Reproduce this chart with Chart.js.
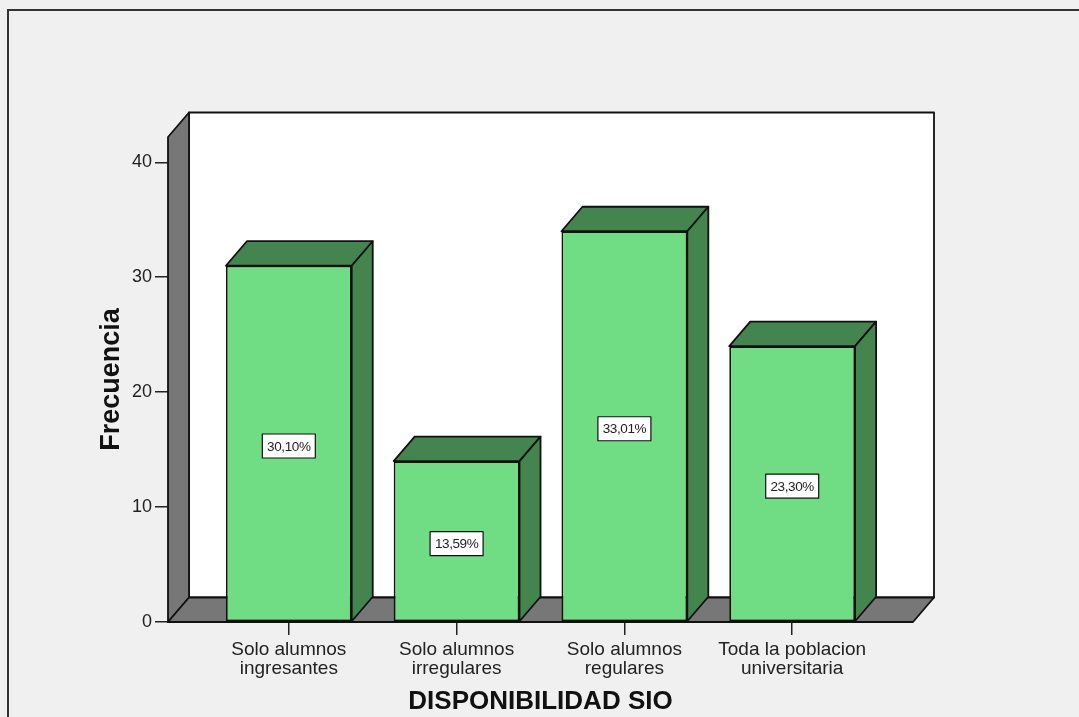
<!DOCTYPE html>
<html>
<head>
<meta charset="utf-8">
<script src="https://cdn.jsdelivr.net/npm/chart.js@4"></script>
<style>
  html, body { margin: 0; padding: 0; background: #f0f0f0; }
  canvas { display: block; }
</style>
</head>
<body>
<canvas id="myChart" width="1079" height="717"></canvas>
<script>
(function () {
  "use strict";

  // data
  const categories = [
    ["Solo alumnos", "ingresantes"],
    ["Solo alumnos", "irregulares"],
    ["Solo alumnos", "regulares"],
    ["Toda la poblacion", "universitaria"],
  ];
  const frecuencia = [31, 14, 34, 24];
  const yTicks = [0, 10, 20, 30, 40];

  const total = frecuencia.reduce((a, b) => a + b, 0);
  const porcentajes = frecuencia.map(
    (v) => ((v / total) * 100).toFixed(2).replace(".", ",") + "%"
  );

  // 3d look
  const DX = 21;
  const DY = 24.5;
  const FRONT = "#70dc84";
  const SHADE = "#44854f";
  const WALL = "#777777";

  const fondo = {
    id: "fondo",
    beforeDraw(chart) {
      const ctx = chart.ctx;
      ctx.save();
      ctx.fillStyle = "#f0f0f0";
      ctx.fillRect(0, 0, chart.width, chart.height);
      ctx.strokeStyle = "#333";
      ctx.lineWidth = 2;
      ctx.strokeRect(8, 10, chart.width + 20, chart.height + 20);
      ctx.restore();
    },
  };

  // back wall, left wall and floor
  const paredes = {
    id: "paredes",
    beforeDatasetsDraw(chart) {
      const { ctx, chartArea: a } = chart;
      ctx.save();
      ctx.lineWidth = 1.8;
      ctx.strokeStyle = "#111";
      ctx.lineJoin = "round";

      ctx.fillStyle = "#ffffff";
      ctx.fillRect(a.left + DX, a.top - DY, a.right - a.left, a.bottom - a.top);
      ctx.strokeRect(a.left + DX, a.top - DY, a.right - a.left, a.bottom - a.top);

      ctx.fillStyle = WALL;
      ctx.beginPath();
      ctx.moveTo(a.left, a.top);
      ctx.lineTo(a.left + DX, a.top - DY);
      ctx.lineTo(a.left + DX, a.bottom - DY);
      ctx.lineTo(a.left, a.bottom);
      ctx.closePath();
      ctx.fill();
      ctx.stroke();

      ctx.beginPath();
      ctx.moveTo(a.left, a.bottom);
      ctx.lineTo(a.left + DX, a.bottom - DY);
      ctx.lineTo(a.right + DX, a.bottom - DY);
      ctx.lineTo(a.right, a.bottom);
      ctx.closePath();
      ctx.fill();
      ctx.stroke();
      ctx.restore();
    },
  };

  // top / side faces of the bars and the percent boxes
  const cajas = {
    id: "cajas",
    afterDatasetsDraw(chart) {
      const ctx = chart.ctx;
      const meta = chart.getDatasetMeta(0);
      ctx.save();
      ctx.lineWidth = 1.8;
      ctx.strokeStyle = "#111";
      ctx.lineJoin = "round";
      meta.data.forEach((bar, i) => {
        const l = bar.x - bar.width / 2;
        const r = bar.x + bar.width / 2;
        const t = bar.y;
        const b = bar.base;

        ctx.fillStyle = SHADE;
        ctx.beginPath();
        ctx.moveTo(l, t);
        ctx.lineTo(l + DX, t - DY);
        ctx.lineTo(r + DX, t - DY);
        ctx.lineTo(r, t);
        ctx.closePath();
        ctx.fill();
        ctx.stroke();

        ctx.beginPath();
        ctx.moveTo(r, t);
        ctx.lineTo(r + DX, t - DY);
        ctx.lineTo(r + DX, b - DY);
        ctx.lineTo(r, b);
        ctx.closePath();
        ctx.fill();
        ctx.stroke();

        // percent label
        const cy = (t + b) / 2 + 2.5;
        const w = 53;
        const h = 24;
        ctx.save();
        ctx.fillStyle = "#fff";
        ctx.lineWidth = 1.2;
        ctx.fillRect(bar.x - w / 2, cy - h / 2, w, h);
        ctx.strokeRect(bar.x - w / 2, cy - h / 2, w, h);
        ctx.fillStyle = "#222";
        ctx.font = '13.5px "Liberation Sans", Arial, sans-serif';
        ctx.letterSpacing = "-0.4px";
        ctx.textAlign = "center";
        ctx.textBaseline = "middle";
        ctx.fillText(porcentajes[i], bar.x, cy + 1);
        ctx.restore();
      });
      ctx.restore();
    },
  };

  Chart.defaults.font.family = '"Liberation Sans", Arial, sans-serif';
  Chart.defaults.color = "#222";

  const ctx = document.getElementById("myChart");

  new Chart(ctx, {
    type: "bar",
    data: {
      datasets: [
        {
          data: frecuencia.map((v, i) => ({ x: i, y: v })),
          backgroundColor: FRONT,
          borderColor: "#111",
          borderWidth: 1.8,
          borderSkipped: false,
          barPercentage: 1,
          categoryPercentage: 0.75,
        },
      ],
    },
    options: {
      responsive: false,
      animation: false,
      layout: {
        padding: { top: 137, right: 166, left: 0, bottom: 0 },
      },
      plugins: {
        legend: { display: false },
        tooltip: { enabled: false },
      },
      scales: {
        x: {
          type: "linear",
          min: -0.72,
          max: 3.72,
          offset: false,
          afterFit(scale) {
            scale.height = 95;
          },
          afterBuildTicks(scale) {
            scale.ticks = categories.map((c, i) => ({ value: i }));
          },
          border: { display: false },
          grid: {
            offset: false,
            drawOnChartArea: false,
            drawTicks: true,
            tickLength: 13,
            color: "#222",
            lineWidth: 1.5,
          },
          ticks: {
            padding: 5,
            autoSkip: false,
            maxRotation: 0,
            font: { size: 19, lineHeight: 1.0 },
            callback: (value, index) => categories[index],
          },
          title: {
            display: true,
            text: "DISPONIBILIDAD SIO",
            color: "#111",
            font: { size: 26, weight: "bold" },
            padding: { top: 0, bottom: 0 },
          },
        },
        y: {
          min: 0,
          max: 42.2,
          afterFit(scale) {
            scale.width = 168;
          },
          afterBuildTicks(scale) {
            scale.ticks = yTicks.map((v) => ({ value: v }));
          },
          border: { display: false },
          grid: {
            drawOnChartArea: false,
            drawTicks: true,
            tickLength: 13,
            color: "#222",
            lineWidth: 1.5,
          },
          ticks: {
            padding: 3,
            font: { size: 18 },
          },
          title: {
            display: true,
            text: "Frecuencia",
            color: "#111",
            font: { size: 27, weight: "bold" },
            padding: { top: 95, bottom: 0 },
          },
        },
      },
    },
    plugins: [fondo, paredes, cajas],
  });
})();
</script>
</body>
</html>
